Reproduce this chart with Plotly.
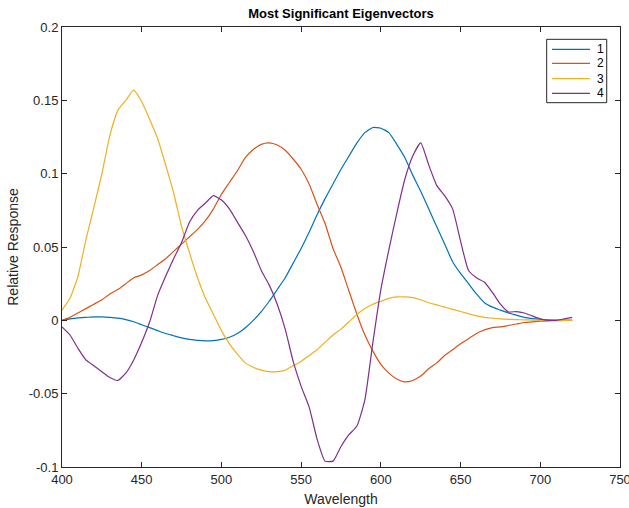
import plotly.graph_objects as go

wavelength = list(range(400, 725, 5))

ev1 = [0.000, 0.001, 0.0017, 0.002, 0.0023, 0.0023, 0.002, 0.0015, 0.0005, -0.001,
       -0.003, -0.005, -0.007, -0.009, -0.0105, -0.012, -0.013, -0.0137, -0.014, -0.0138,
       -0.013, -0.0115, -0.009, -0.005, 0.000, 0.006, 0.013, 0.021, 0.029, 0.039,
       0.049, 0.060, 0.072, 0.083, 0.093, 0.103, 0.112, 0.121, 0.128, 0.1315,
       0.131, 0.128, 0.120, 0.111, 0.099, 0.088, 0.076, 0.064, 0.052, 0.040,
       0.032, 0.025, 0.018, 0.012, 0.009, 0.007, 0.005, 0.0035, 0.002, 0.0012,
       0.0007, 0.0004, 0.0002, 0.0001, 0.000]

ev2 = [0.000, 0.002, 0.005, 0.008, 0.011, 0.014, 0.018, 0.021, 0.025, 0.029,
       0.031, 0.034, 0.038, 0.042, 0.047, 0.052, 0.057, 0.062, 0.068, 0.076,
       0.086, 0.094, 0.102, 0.111, 0.1165, 0.120, 0.121, 0.1195, 0.116, 0.110,
       0.103, 0.093, 0.079, 0.066, 0.049, 0.036, 0.020, 0.004, -0.010, -0.021,
       -0.030, -0.036, -0.040, -0.042, -0.041, -0.038, -0.033, -0.029, -0.024, -0.020,
       -0.016, -0.0125, -0.009, -0.0065, -0.005, -0.0045, -0.0035, -0.0025, -0.0015, -0.001,
       -0.0006, -0.0004, -0.0002, -0.0001, 0.000]

ev3 = [0.007, 0.015, 0.030, 0.055, 0.077, 0.100, 0.126, 0.143, 0.150, 0.157,
       0.149, 0.137, 0.124, 0.106, 0.087, 0.064, 0.046, 0.029, 0.015, 0.004,
       -0.007, -0.016, -0.023, -0.029, -0.032, -0.034, -0.035, -0.035, -0.034, -0.031,
       -0.028, -0.024, -0.020, -0.015, -0.010, -0.006, -0.001, 0.004, 0.008, 0.011,
       0.013, 0.015, 0.016, 0.016, 0.0155, 0.014, 0.012, 0.0105, 0.009, 0.0075,
       0.006, 0.0045, 0.003, 0.002, 0.0015, 0.001, 0.0007, 0.0005, 0.0003, 0.0002,
       0.0001, 0.000, 0.000, 0.000, 0.000]

ev4 = [-0.0045, -0.010, -0.019, -0.027, -0.031, -0.035, -0.039, -0.041, -0.036, -0.027,
       -0.015, -0.001, 0.017, 0.030, 0.042, 0.053, 0.067, 0.075, 0.080, 0.085,
       0.082, 0.076, 0.067, 0.058, 0.047, 0.034, 0.024, 0.011, -0.006, -0.028,
       -0.045, -0.059, -0.081, -0.096, -0.096, -0.086, -0.078, -0.072, -0.054, -0.015,
       0.021, 0.048, 0.073, 0.096, 0.112, 0.121, 0.106, 0.092, 0.085, 0.076,
       0.054, 0.034, 0.029, 0.026, 0.019, 0.011, 0.0057, 0.006, 0.005, 0.003,
       0.001, 0.000, 0.000, 0.001, 0.002]

names = ["1", "2", "3", "4"]
colors = ["#0072BD", "#D95319", "#EDB120", "#7E2F8E"]

x_ticks = [400, 450, 500, 550, 600, 650, 700, 750]
y_ticks = [-0.1, -0.05, 0, 0.05, 0.1, 0.15, 0.2]
y_tick_text = ["-0.1", "-0.05", "0", "0.05", "0.1", "0.15", "0.2"]

fig = go.Figure()
for name, series, color in zip(names, [ev1, ev2, ev3, ev4], colors):
    fig.add_trace(go.Scatter(x=wavelength, y=series, mode="lines", name=name,
                             line=dict(color=color, width=1.2, shape="spline", smoothing=0.5),
                             showlegend=False))

font_family = "Liberation Sans, Arial, Helvetica, sans-serif"
axis_common = dict(showgrid=False, zeroline=False, showline=True, linecolor="#262626",
                   linewidth=1, mirror="ticks", ticks="inside", ticklen=5,
                   tickcolor="#262626", tickwidth=1, automargin=False,
                   ticklabeloverflow="allow",
                   tickfont=dict(family=font_family, size=13, color="#262626"))

# Legend box drawn in paper coordinates (MATLAB-style compact legend)
box_x0, box_x1, box_y0, box_y1 = 0.8686, 0.9762, 0.8280, 0.9720
line_x0, line_x1, text_x = 0.8781, 0.9462, 0.9552
row_y = [0.9493, 0.9175, 0.8825, 0.8493]

shapes = [dict(type="rect", xref="paper", yref="paper", x0=box_x0, x1=box_x1,
               y0=box_y0, y1=box_y1, line=dict(color="#262626", width=1),
               fillcolor="white", layer="above")]
annotations = []
for name, color, ry in zip(names, colors, row_y):
    shapes.append(dict(type="line", xref="paper", yref="paper", x0=line_x0, x1=line_x1,
                       y0=ry, y1=ry, line=dict(color=color, width=1.2), layer="above"))
    annotations.append(dict(text=name, xref="paper", yref="paper", x=text_x, y=ry,
                            xanchor="left", yanchor="middle", showarrow=False,
                            font=dict(family=font_family, size=12, color="black")))

fig.update_layout(
    width=629, height=508,
    margin=dict(l=62, r=9, t=27, b=41),
    paper_bgcolor="white", plot_bgcolor="white",
    font=dict(family=font_family, color="#262626"),
    title=dict(text="<b>Most Significant Eigenvectors</b>", x=0.5, xref="paper",
               xanchor="center", y=1 - 13 / 508, yanchor="middle",
               font=dict(family=font_family, size=13, color="black")),
    xaxis=dict(range=[400, 750], tickvals=x_ticks,
               title=dict(text="Wavelength", standoff=8,
                          font=dict(family=font_family, size=14, color="#262626")),
               **axis_common),
    yaxis=dict(range=[-0.1, 0.2], tickvals=y_ticks, ticktext=y_tick_text,
               title=dict(text="Relative Response", standoff=6,
                          font=dict(family=font_family, size=14, color="#262626")),
               **axis_common),
    shapes=shapes,
    annotations=annotations,
    showlegend=False,
)

fig.write_html("out.html", config={"displayModeBar": False},
               post_script="document.body.style.margin='0';document.body.style.overflow='hidden';")
